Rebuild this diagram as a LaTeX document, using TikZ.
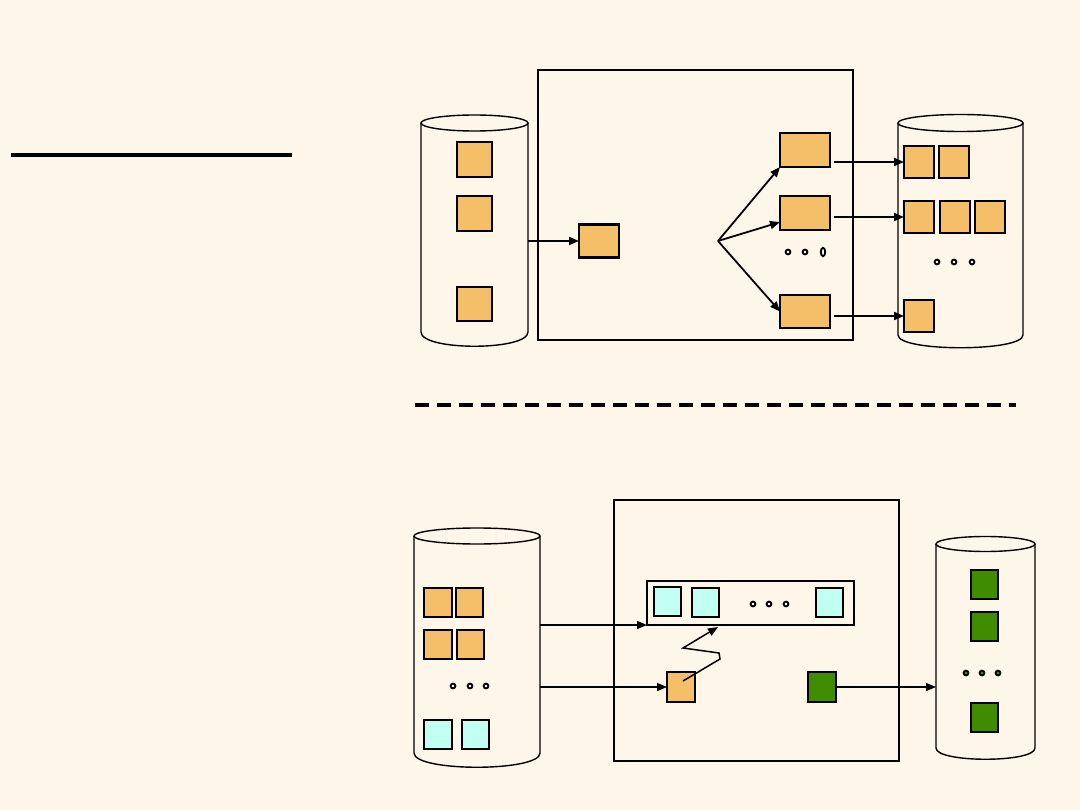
\documentclass[tikz,border=0pt]{standalone}
\usetikzlibrary{arrows.meta}
\definecolor{bg}{HTML}{FFF6EA}
\definecolor{org}{HTML}{F5BF69}
\definecolor{cyn}{HTML}{C0FFF2}
\definecolor{grn}{HTML}{3F8C00}
\begin{document}
\begin{tikzpicture}[x=1pt,y=-1pt,
  blk/.style={draw,inner sep=0pt,outer sep=0pt},
  osq/.style={blk,fill=org,line width=2.2pt},
  osqt/.style={blk,fill=org,line width=1.2pt},
  csq/.style={blk,fill=cyn,line width=1.2pt},
  csqk/.style={blk,fill=cyn,line width=2.2pt},
  gsq/.style={blk,fill=grn,line width=1.2pt},
  frame/.style={blk,line width=1.6pt},
  cyl/.style={draw,line width=1.4pt,fill=bg},
  arr/.style={-{Triangle[length=10pt,width=8pt]},line width=1.8pt},
  arrt/.style={-{Triangle[length=10pt,width=8pt]},line width=1.2pt},
  ring/.style={draw,line width=1.8pt}]
\useasboundingbox[fill=bg] (0,0) rectangle (1080,810);

% top-left rule
\draw[line width=3.2pt] (11,155) -- (292,155);

% ===== top part =====
% left cylinder
\draw[cyl] (421,123) -- (421,332) .. controls (421,351) and (528,351) .. (528,332) -- (528,123);
\draw[cyl] (474.5,123) ellipse [x radius=53.5pt, y radius=8pt];
\node[osq,minimum width=35pt,minimum height=35pt] (l1) at (474.5,159.5) {};
\node[osq,minimum width=35pt,minimum height=35pt] (l2) at (474.5,213.5) {};
\node[osq,minimum width=35pt,minimum height=34pt] (l3) at (474.5,304) {};
\coordinate (lout) at (528,241);

% box
\node[frame,minimum width=315pt,minimum height=270pt] (box1) at (695.5,205) {};
\node[osq,minimum width=40pt,minimum height=33pt] (m) at (599,241) {};
\node[osq,minimum width=50pt,minimum height=34pt] (r1) at (805,150) {};
\node[osq,minimum width=50pt,minimum height=34pt] (r2) at (805,213) {};
\node[osq,minimum width=50pt,minimum height=33pt] (r3) at (805,311.5) {};
\coordinate (fan) at (718,241);
\draw[ring] (788,252) circle [radius=2.4pt];
\draw[ring] (805,252) circle [radius=2.4pt];
\draw[ring] (823,252) ellipse [x radius=2.2pt, y radius=4.2pt];

% right cylinder
\draw[cyl] (898,123) -- (898,335) .. controls (898,352) and (1023,352) .. (1023,335) -- (1023,123);
\draw[cyl] (960.5,123) ellipse [x radius=62.5pt, y radius=8.5pt];
\node[osq,minimum width=30pt,minimum height=32pt] (s1) at (919,162) {};
\node[osq,minimum width=30pt,minimum height=32pt] (s1b) at (954,162) {};
\node[osq,minimum width=30pt,minimum height=32pt] (s2) at (919,217) {};
\node[osq,minimum width=30pt,minimum height=32pt] (s2b) at (955,217) {};
\node[osq,minimum width=30pt,minimum height=32pt] (s2c) at (990,217) {};
\node[osq,minimum width=30pt,minimum height=32pt] (s3) at (919,316) {};
\draw[ring] (937,262) circle [radius=2.4pt];
\draw[ring] (954,262) circle [radius=2.4pt];
\draw[ring] (972,262) circle [radius=2.4pt];

% top connectors
\draw[arr] (lout) -- (m.west);
\draw[arr] (fan) -- (r1.south west);
\draw[arr] (fan) -- (r2.200);
\draw[arr] (fan) -- (r3.west);
\draw[arr,shorten <=4pt] (r1.east |- s1.west) -- (s1.west);
\draw[arr,shorten <=4pt] (r2.east |- s2.west) -- (s2.west);
\draw[arr,shorten <=4pt] (r3.east |- s3.west) -- (s3.west);

% dashed separator
\draw[line width=3.2pt,dash pattern=on 14pt off 8pt] (415,405) -- (1016,405);

% ===== bottom part =====
% left cylinder
\draw[cyl] (414,536) -- (414,753) .. controls (414,772) and (540,772) .. (540,753) -- (540,536);
\draw[cyl] (477,536) ellipse [x radius=63pt, y radius=8pt];
\node[osq,minimum width=28pt,minimum height=29pt] (b1) at (438,602.5) {};
\node[osq,minimum width=27pt,minimum height=29pt] (b2) at (469.5,602.5) {};
\node[osq,minimum width=28pt,minimum height=29pt] (b3) at (438,644.5) {};
\node[osq,minimum width=27pt,minimum height=29pt] (b4) at (470.5,644.5) {};
\node[csq,minimum width=28pt,minimum height=29pt] (b5) at (438,734.5) {};
\node[csq,minimum width=27pt,minimum height=29pt] (b6) at (475.5,734.5) {};
\draw[ring] (453,686) circle [radius=2.4pt];
\draw[ring] (470,686) circle [radius=2.4pt];
\draw[ring] (486,686) circle [radius=2.4pt];
\coordinate (bout1) at (540,625);
\coordinate (bout2) at (540,687);

% box
\node[frame,minimum width=285pt,minimum height=261pt] (box2) at (756.5,630.5) {};
\node[blk,line width=1.2pt,minimum width=207pt,minimum height=44pt] (inner) at (750.5,603) {};
\node[csqk,minimum width=27pt,minimum height=29pt] (c1) at (667.5,601.5) {};
\node[csqk,minimum width=27pt,minimum height=29pt] (c2) at (705.5,602.5) {};
\node[csqk,minimum width=27pt,minimum height=29pt] (c3) at (829.5,602.5) {};
\draw[ring] (753,604) circle [radius=2.4pt];
\draw[ring] (769,604) circle [radius=2.4pt];
\draw[ring] (786,604) circle [radius=2.4pt];
\node[osqt,minimum width=28pt,minimum height=30pt] (o) at (681,687) {};
\node[gsq,minimum width=28pt,minimum height=30pt] (g) at (822,687) {};
\coordinate (zstart) at (683,681);
\coordinate (zend) at (718,627);

% right cylinder
\draw[cyl] (936,544) -- (936,748) .. controls (936,763) and (1035,763) .. (1035,748) -- (1035,544);
\draw[cyl] (985.5,544) ellipse [x radius=49.5pt, y radius=7.5pt];
\node[gsq,minimum width=27pt,minimum height=29pt] (g1) at (984.5,584.5) {};
\node[gsq,minimum width=27pt,minimum height=29pt] (g2) at (984.5,626.5) {};
\node[gsq,minimum width=27pt,minimum height=29pt] (g3) at (984.5,717.5) {};
\draw[ring,fill=grn] (966,673) circle [radius=2.4pt];
\draw[ring,fill=grn] (982,673) circle [radius=2.4pt];
\draw[ring,fill=grn] (998,673) circle [radius=2.4pt];
\coordinate (rin) at (936,687);

% bottom connectors
\draw[arrt] (bout1) -- (inner.south west);
\draw[arrt] (bout2) -- (o.west);
\draw[arr,line width=1.5pt] (zstart) -- (720,659) -- (719,653) -- (683,648) -- (zend);
\draw[arrt] (g.east) -- (rin);
\end{tikzpicture}
\end{document}
